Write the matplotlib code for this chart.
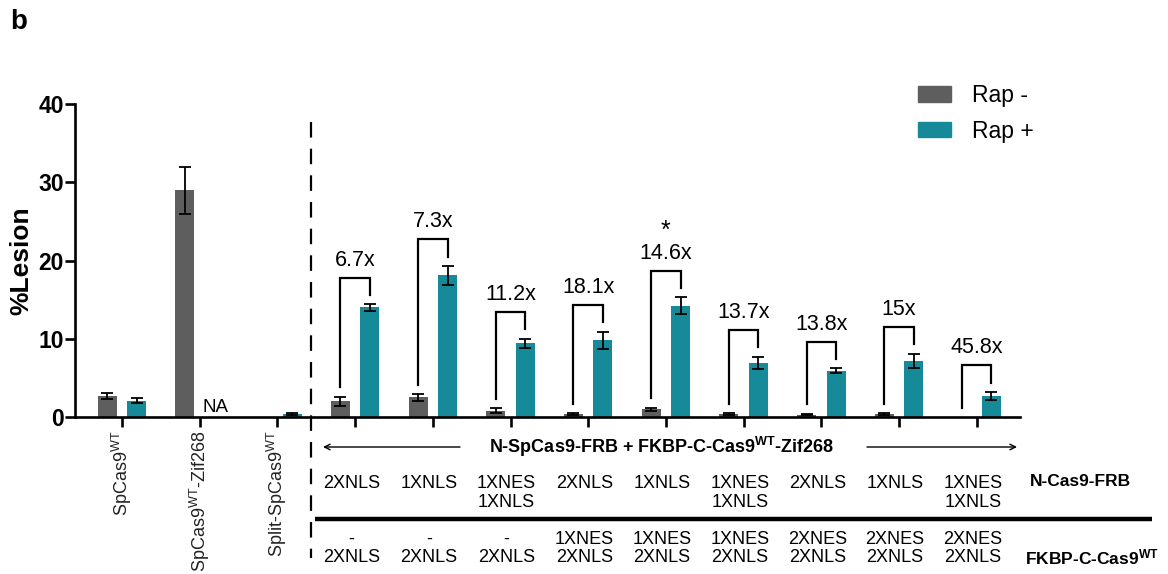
import matplotlib
matplotlib.use("Agg")
import matplotlib.pyplot as plt
import numpy as np
from matplotlib import transforms
from matplotlib.lines import Line2D
from matplotlib.patches import Patch

plt.rcParams['font.family'] = ['Liberation Sans', 'DejaVu Sans']
plt.rcParams['mathtext.fontset'] = 'custom'
plt.rcParams['mathtext.rm'] = 'Liberation Sans'
plt.rcParams['mathtext.bf'] = 'Liberation Sans:bold'
plt.rcParams['mathtext.default'] = 'regular'

# ---- data ----
groups = ['SpCas9$^{WT}$', 'SpCas9$^{WT}$-Zif268', 'Split-SpCas9$^{WT}$',
          'g4', 'g5', 'g6', 'g7', 'g8', 'g9', 'g10', 'g11', 'g12']
rap_minus = [2.7, 29.0, 0.0, 2.0, 2.5, 0.8, 0.4, 1.0, 0.4, 0.3, 0.35, 0.0]
rap_minus_err = [0.4, 3.0, 0.0, 0.6, 0.4, 0.3, 0.1, 0.2, 0.1, 0.1, 0.1, 0.0]
rap_plus = [2.1, np.nan, 0.4, 14.0, 18.1, 9.4, 9.8, 14.2, 6.9, 5.9, 7.2, 2.7]
rap_plus_err = [0.3, 0.0, 0.1, 0.4, 1.2, 0.6, 1.1, 1.1, 0.8, 0.3, 0.9, 0.5]
fold_labels = ['6.7x', '7.3x', '11.2x', '18.1x', '14.6x', '13.7x', '13.8x', '15x', '45.8x']
n_cas9_frb = ['2XNLS', '1XNLS', '1XNES\n1XNLS', '2XNLS', '1XNLS', '1XNES\n1XNLS',
              '2XNLS', '1XNLS', '1XNES\n1XNLS']
fkbp_c_cas9 = ['-\n2XNLS', '-\n2XNLS', '-\n2XNLS', '1XNES\n2XNLS', '1XNES\n2XNLS',
               '1XNES\n2XNLS', '2XNES\n2XNLS', '2XNES\n2XNLS', '2XNES\n2XNLS']
star_group = 7

GRAY = '#5e5e5e'
TEAL = '#178a99'

W, H = 1168, 574
fig = plt.figure(figsize=(W / 100, H / 100), dpi=100)
ax = fig.add_axes([75 / W, 1 - 417 / H, (1020 - 75) / W, (417 - 104) / H])

x = np.arange(len(groups))
off = 0.19
bw = 0.245
ekw = dict(elinewidth=1.3, capthick=1.3, ecolor='black')
ax.bar(x - off, rap_minus, bw, color=GRAY, label='Rap -', zorder=2)
ax.bar(x + off, rap_plus, bw, color=TEAL, label='Rap +', zorder=2)
for i in range(len(groups)):
    if rap_minus[i] > 0:
        ax.errorbar(x[i] - off, rap_minus[i], yerr=rap_minus_err[i], fmt='none',
                    capsize=4.5, zorder=3, **ekw)
    if not np.isnan(rap_plus[i]):
        ax.errorbar(x[i] + off, rap_plus[i], yerr=rap_plus_err[i], fmt='none',
                    capsize=4.5, zorder=3, **ekw)

ax.text(1.04, 0.15, 'NA', fontsize=13.5, ha='left', va='bottom')

# fold-change brackets
for k, gi in enumerate(range(3, 12)):
    lb = rap_minus[gi] + rap_minus_err[gi] + 1.2
    rb = rap_plus[gi] + rap_plus_err[gi] + 1.2
    top = rb + 2.2
    ax.plot([gi - off, gi - off, gi + off, gi + off], [lb, top, top, rb],
            color='black', lw=1.6, solid_joinstyle='miter', zorder=3)
    ax.text(gi, top + 0.9, fold_labels[k], fontsize=15.5, ha='center', va='bottom')
    if gi == star_group:
        ax.text(gi, top + 3.6, '*', fontsize=18, ha='center', va='bottom')

ax.set_xlim(-0.605, 11.557)
ax.set_ylim(0, 40)
ax.set_yticks([0, 10, 20, 30, 40])
ax.set_yticklabels(['0', '10', '20', '30', '40'], fontsize=16.5, fontweight='bold')
ax.set_ylabel('%Lesion', fontsize=19, fontweight='bold')
ax.yaxis.set_label_coords(-0.044, 0.5)
ax.set_xticks(x)
ax.set_xticklabels(groups[:3] + [''] * 9, rotation=90, fontsize=13, color='#222222')
for s in ['top', 'right']:
    ax.spines[s].set_visible(False)
for s in ['left', 'bottom']:
    ax.spines[s].set_linewidth(1.9)
ax.tick_params(axis='both', width=1.9, length=7, direction='out')
ax.tick_params(axis='x', pad=3)
ax.tick_params(axis='y', pad=1)

# annotations below the axis
tr = transforms.blended_transform_factory(ax.transData, fig.transFigure)


def fy(p):
    return 1 - p / H


def gx(p):
    return (p - 122) / 77.7


dash = Line2D([gx(310.7)] * 2, [fy(122), fy(558)], transform=tr, color='black',
              lw=1.6, dashes=(7, 5), clip_on=False)
fig.add_artist(dash)

fig.text(662 / W, fy(447), 'N-SpCas9-FRB + FKBP-C-Cas9$^{\\mathbf{WT}}$-Zif268',
         fontsize=13, fontweight='bold', ha='center', va='center')
ax.annotate('', xy=(gx(323), fy(447)), xytext=(gx(460), fy(447)),
            xycoords=tr, textcoords=tr,
            arrowprops=dict(arrowstyle='->', lw=1.0, color='black',
                            shrinkA=0, shrinkB=0), annotation_clip=False)
ax.annotate('', xy=(gx(1017), fy(447)), xytext=(gx(867), fy(447)),
            xycoords=tr, textcoords=tr,
            arrowprops=dict(arrowstyle='->', lw=1.0, color='black',
                            shrinkA=0, shrinkB=0), annotation_clip=False)

for k, gi in enumerate(range(3, 12)):
    ax.text(gi - 0.05, fy(475), n_cas9_frb[k], transform=tr, fontsize=13,
            ha='center', va='top', linespacing=1.15, multialignment='center')
    ax.text(gi - 0.05, fy(531), fkbp_c_cas9[k], transform=tr, fontsize=13,
            ha='center', va='top', linespacing=1.1, multialignment='center')

fig.add_artist(Line2D([315 / W, 1152 / W], [fy(519), fy(519)], color='black',
                      lw=3.2, solid_capstyle='butt'))
fig.text(1030 / W, fy(482), 'N-Cas9-FRB', fontsize=12.5, fontweight='bold',
         ha='left', va='center')
fig.text(1025 / W, fy(557), 'FKBP-C-Cas9$^{\\mathbf{WT}}$', fontsize=12.5,
         fontweight='bold', ha='left', va='center')

fig.text(10 / W, fy(22), 'b', fontsize=20, fontweight='bold', ha='left', va='center')

handles = [Patch(color=GRAY), Patch(color=TEAL)]
fig.legend(handles, ['Rap -', 'Rap +'], loc='upper left',
           bbox_to_anchor=(918 / W, fy(84)), frameon=False, fontsize=16.5,
           handlelength=1.45, handleheight=0.65, handletextpad=0.9,
           labelspacing=0.55, borderpad=0, borderaxespad=0)

fig.savefig('out.png', dpi=100)
